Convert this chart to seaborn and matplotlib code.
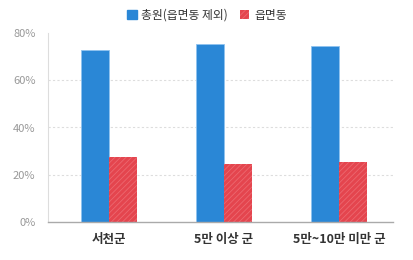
import matplotlib
matplotlib.use("Agg")
import matplotlib.pyplot as plt
import seaborn as sns
import pandas as pd
from matplotlib.patches import Patch
from matplotlib.ticker import FuncFormatter

categories = ["서천군", "5만 이상 군", "5만~10만 미만 군"]
series_names = ["총원(읍면동 제외)", "읍면동"]
total_values = [72.8, 75.3, 74.5]
eup_values = [27.5, 24.5, 25.4]
y_ticks = [0, 20, 40, 60, 80]

df = pd.DataFrame({
    "category": categories * 2,
    "series": [series_names[0]] * 3 + [series_names[1]] * 3,
    "value": total_values + eup_values,
})

sns.set_style("white")
plt.rcParams['font.family'] = ['Noto Sans CJK KR', 'DejaVu Sans']
plt.rcParams['hatch.linewidth'] = 0.6

blue = "#2a87d6"
red = "#e4454e"
hatch_col = "#ec6870"

fig = plt.figure(figsize=(4.14, 2.6), dpi=100)
ax = fig.add_axes([48/414, 38/260, 345/414, 189/260])

sns.barplot(data=df, x="category", y="value", hue="series", order=categories,
            hue_order=series_names, palette=[blue, red], width=0.487,
            ax=ax, legend=False, saturation=1)

for i, p in enumerate(ax.patches):
    if i < 3:
        p.set_edgecolor("#8fc3ef")
        p.set_linewidth(0.6)
    else:
        p.set_edgecolor(hatch_col)
        p.set_hatch("//////")
        p.set_linewidth(0)

ax.set_xlim(-0.53, 2.47)
ax.set_ylim(0, 80)
ax.set_yticks(y_ticks)
ax.yaxis.set_major_formatter(FuncFormatter(lambda v, _: f"{int(v)}%"))
ax.set_xlabel("")
ax.set_ylabel("")

for v in [20, 40, 60]:
    ax.axhline(v, color="#dddddd", linestyle=(0, (2, 2)), linewidth=0.8, zorder=0)

for s in ["top", "right"]:
    ax.spines[s].set_visible(False)
ax.spines["left"].set_color("#dddddd")
ax.spines["left"].set_linewidth(0.8)
ax.spines["bottom"].set_color("#aaaaaa")
ax.spines["bottom"].set_linewidth(1.0)

ax.tick_params(axis="y", length=0, labelsize=8, labelcolor="#999999", pad=9)
ax.tick_params(axis="x", length=0, labelsize=9, labelcolor="#333333", pad=8)
for t in ax.get_xticklabels():
    t.set_fontweight("bold")

handles = [Patch(facecolor=blue, edgecolor=blue),
           Patch(facecolor=red, edgecolor=hatch_col, hatch="//////", linewidth=0)]
fig.legend(handles, series_names, loc="center", bbox_to_anchor=(0.5, 1 - 15/260),
           ncol=2, frameon=False, fontsize=8.5, handlelength=0.8, handleheight=0.8,
           handletextpad=0.4, columnspacing=1.0, labelcolor="#333333")

fig.savefig("out.png", dpi=100)
